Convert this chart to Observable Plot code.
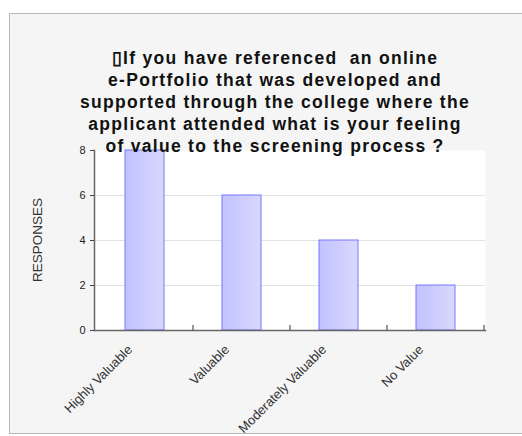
<!DOCTYPE html>
<html>
<head>
<meta charset="utf-8">
<script src="https://cdn.jsdelivr.net/npm/d3@7"></script>
<script src="https://cdn.jsdelivr.net/npm/@observablehq/plot@0.6"></script>
<style>
  html, body { margin: 0; padding: 0; background: #ffffff; }
  #wrap { position: relative; width: 522px; height: 436px; overflow: hidden; font-family: "Liberation Sans", Arial, sans-serif; }
  #box { position: absolute; left: 9px; top: 13px; width: 600px; height: 419px; background: #f5f5f5; border: 1px solid #b8b8b8; }
  #title { position: absolute; left: 0; top: 47px; width: 550px; z-index: 2; }
  #title div { width: fit-content; margin: 0 auto; font-weight: bold; font-size: 17.5px; line-height: 22px; letter-spacing: 1.3px; color: #111; white-space: pre; }
  #ylab { position: absolute; left: 37px; top: 240px; transform: translate(-50%, -50%) rotate(-90deg); font-size: 13.5px; color: #333; white-space: nowrap; z-index: 2; }
  #chart { position: absolute; left: 0; top: 0; z-index: 1; }
</style>
</head>
<body>
<svg width="0" height="0" style="position:absolute">
  <defs>
    <linearGradient id="barGrad" x1="0" y1="0" x2="1" y2="0">
      <stop offset="0" stop-color="#c2c2ff"/>
      <stop offset="1" stop-color="#d8d8ff"/>
    </linearGradient>
  </defs>
</svg>
<div id="wrap">
  <div id="box"></div>
  <div id="chart"></div>
  <div id="title"></div>
  <div id="ylab"></div>
</div>
<script>
const categories = ["Highly Valuable", "Valuable", "Moderately Valuable", "No Value"];
const responses = [8, 6, 4, 2];
const yTicks = [0, 2, 4, 6, 8];
const gridTicks = [2, 4, 6];
const titleLines = [
  "\u25AFIf you have referenced  an online",
  "e-Portfolio that was developed and",
  "supported through the college where the",
  "applicant attended what is your feeling",
  "of value to the screening process ?"
];
const yLabel = "RESPONSES";

const titleEl = document.getElementById("title");
titleLines.forEach(t => {
  const d = document.createElement("div");
  d.textContent = t;
  titleEl.appendChild(d);
});
document.getElementById("ylab").textContent = yLabel;

const data = categories.map((c, i) => ({category: c, value: responses[i]}));

// inward ticks at the boundaries between categories (band edges)
function boundaryTicks(index, scales, values, dimensions) {
  const x = scales.x, y = scales.y;
  const step = x.step();
  const bw = x.bandwidth();
  const g = d3.create("svg:g");
  const y0 = y(0);
  categories.forEach(c => {
    const xb = x(c) + bw / 2 + step / 2;
    g.append("line")
      .attr("x1", xb).attr("x2", xb)
      .attr("y1", y0).attr("y2", y0 - 5)
      .attr("stroke", "#333").attr("stroke-width", 1);
  });
  return g.node();
}

const plot = Plot.plot({
  width: 522,
  height: 436,
  marginLeft: 94,
  marginRight: 37,
  marginTop: 150,
  marginBottom: 106,
  style: { background: "transparent", fontFamily: "'Liberation Sans', Arial, sans-serif", color: "#222" },
  x: { domain: categories, paddingInner: 0.6, paddingOuter: 0.3, axis: null },
  y: { domain: [0, 8], axis: null },
  marks: [
    Plot.frame({ fill: "white", stroke: "none" }),
    Plot.gridY(gridTicks, { stroke: "#e2e2e2", strokeOpacity: 1, strokeWidth: 1 }),
    Plot.barY(data, { x: "category", y: "value", fill: "url(#barGrad)", stroke: "#7777ff", strokeWidth: 1 }),
    Plot.axisY(yTicks, { tickSize: 4, tickPadding: 5, fontSize: 11, stroke: "#444", fill: "#222", label: null }),
    Plot.frame({ anchor: "left", stroke: "#666", strokeWidth: 1.5 }),
    Plot.frame({ anchor: "bottom", stroke: "#666", strokeWidth: 1.5 }),
    boundaryTicks,
    Plot.text(data, {
      x: "category", frameAnchor: "bottom", text: "category",
      rotate: -45, textAnchor: "end", dx: -12, dy: 20,
      fontSize: 13, fill: "#333", letterSpacing: 0.6
    })
  ]
});
document.getElementById("chart").appendChild(plot);
</script>
</body>
</html>
